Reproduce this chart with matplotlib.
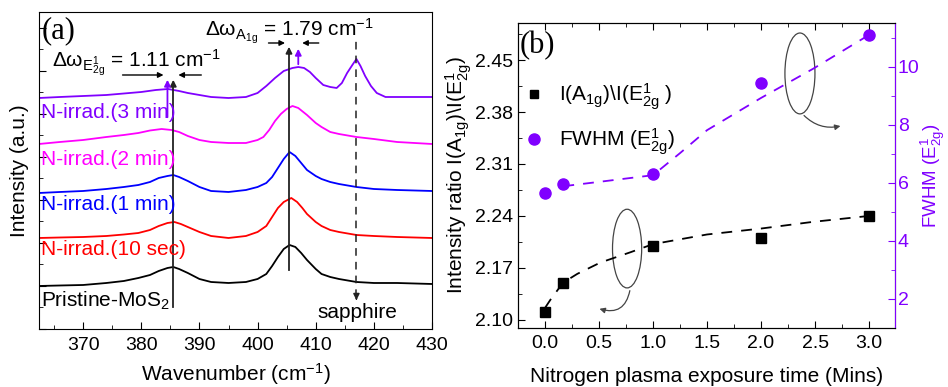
import matplotlib
matplotlib.use('Agg')
import matplotlib.pyplot as plt
from matplotlib.patches import Ellipse, FancyArrowPatch
from matplotlib.ticker import MultipleLocator
from matplotlib.lines import Line2D

plt.rcParams['font.family'] = ['Liberation Sans', 'DejaVu Sans']
plt.rcParams['mathtext.fontset'] = 'custom'
plt.rcParams['mathtext.rm'] = 'Liberation Sans'
plt.rcParams['mathtext.it'] = 'Liberation Sans:italic'
plt.rcParams['mathtext.bf'] = 'Liberation Sans:bold'

# ---- panel (a): Raman spectra (stacked, a.u.) ----
w_pristine = [362.4, 366, 370, 374, 377, 379.5, 381.5, 383, 384.5, 385.5, 386.5, 388, 390, 392, 395, 398, 400,
              401.5, 402.5, 403.5, 404.5, 405.5, 406.5, 407.5, 408.5, 410, 411, 412.5, 414, 417, 420, 424, 430]
i_pristine = [43, 43.5, 44, 46, 48, 51, 54, 58, 61, 62, 60, 56, 50, 47, 46, 47, 50,
              55, 63, 72, 80, 84, 82, 76, 69, 60, 55, 52, 50, 47, 46, 46, 45]

w_10sec = [362.4, 366, 370, 374, 377, 379.5, 381.5, 383, 384.5, 385.7, 386.8, 388, 390, 392, 395, 398, 400,
           401.5, 402.5, 403.5, 404.5, 405.8, 406.8, 407.7, 408.5, 410, 411, 412.5, 414, 417, 420, 424, 430]
i_10sec = [91, 91.5, 92, 93, 94.5, 96, 99, 103, 106, 107, 105, 102, 97, 93, 91, 93, 97,
           103, 112, 121, 127, 131, 127, 121, 115, 107, 103, 99, 97, 94, 93, 92, 91]

w_1min = [362.4, 366, 370, 374, 377, 379.5, 381.5, 383, 384.5, 385.5, 386.5, 388, 390, 392, 395, 398, 400,
          401.5, 402.5, 403.5, 404.5, 405.5, 406.5, 407.5, 408.5, 410, 411, 412.5, 414, 417, 420, 424, 430]
i_1min = [136, 137, 138, 140, 142, 144, 147, 151, 153, 154, 152, 148, 142, 138, 137, 139, 142,
          146, 152, 161, 170, 177, 173, 166, 159, 153, 150, 147, 145, 142, 140, 139, 138]

w_2min = [362.4, 366, 370, 374, 377, 379.5, 381.5, 383.5, 385.2, 386.5, 388, 390, 392, 395, 398, 400,
          401, 402, 403, 404, 405, 406, 407, 408.5, 410, 411, 412.5, 414, 417, 420, 424, 430]
i_2min = [185, 187, 189, 192, 194, 196, 198.5, 200, 199, 197, 193, 189, 187, 186, 186, 189,
          192, 199, 208, 215, 220, 223, 221, 214, 206, 202, 197, 195, 192, 190, 187, 185]

w_3min = [362.4, 366, 370, 374, 377, 380, 382.5, 384.6, 386.5, 388, 390, 392, 395, 398, 400, 401.5, 403,
          404.5, 406, 407, 408, 409, 410, 411.3, 412.5, 413.6, 414.5, 415.4, 416.3, 417, 417.7, 418.5,
          419.5, 420.5, 422, 426, 430.3]
i_3min = [231, 232, 233, 234, 235.5, 237, 239, 240, 238, 236, 234, 232, 231, 232, 236, 243, 251,
          258, 261, 262, 261, 257, 251, 244, 242, 241, 246, 256, 264, 270, 263, 253,
          243, 236, 232, 232, 232]

spec_labels = ['Pristine-MoS$_2$', 'N-irrad.(10 sec)', 'N-irrad.(1 min)', 'N-irrad.(2 min)', 'N-irrad.(3 min)']
spec_colors = ['black', '#FF0000', '#0000FF', '#FF00FF', '#8000FF']

# ---- panel (b): ratio and FWHM vs exposure time ----
time_min = [0.0, 0.167, 1.0, 2.0, 3.0]
ratio = [2.110, 2.150, 2.199, 2.210, 2.240]
fwhm = [5.64, 5.95, 6.29, 9.43, 11.07]

ratio_fit_t = [0.0, 0.05, 0.167, 0.3, 0.51, 0.79, 1.0, 1.5, 2.0, 2.48, 3.0]
ratio_fit = [2.116, 2.127, 2.150, 2.162, 2.177, 2.191, 2.202, 2.215, 2.223, 2.232, 2.240]
fwhm_fit_t = [0.17, 0.5, 1.0, 1.25, 1.5, 2.0, 2.48, 3.0]
fwhm_fit = [5.88, 6.03, 6.26, 7.02, 7.81, 8.92, 9.92, 11.09]

purple = '#8000FF'
FS = 15
TS = 14
E2G = r'\mathrm{E}^{\mathrm{1}}_{\mathrm{2g}}'
A1G = r'\mathrm{A}_{\mathrm{1g}}'

fig = plt.figure(figsize=(9.48, 3.87), dpi=100)

# ================= (a) =================
ax1 = fig.add_axes([0.0411, 0.1499, 0.4146, 0.8191])
series = [(w_pristine, i_pristine), (w_10sec, i_10sec), (w_1min, i_1min), (w_2min, i_2min), (w_3min, i_3min)]
for (w, i), c in zip(series, spec_colors):
    ax1.plot(w, i, color=c, lw=1.3)

ax1.set_xlim(362.4, 430)
ax1.set_ylim(0, 317)
ax1.xaxis.set_major_locator(MultipleLocator(10))
ax1.xaxis.set_minor_locator(MultipleLocator(5))
ax1.yaxis.set_major_locator(MultipleLocator(43))
ax1.yaxis.set_minor_locator(MultipleLocator(21.5))
ax1.set_yticklabels([])
ax1.tick_params(axis='both', which='both', direction='in', top=False, right=False, labelsize=TS)
ax1.tick_params(which='major', length=5)
ax1.tick_params(which='minor', length=3)
ax1.tick_params(axis='x', pad=6)
ax1.set_xlabel('Wavenumber (cm$^{-1}$)', fontsize=FS, labelpad=5)
ax1.set_ylabel('Intensity (a.u.)', fontsize=FS, labelpad=4)

label_y = [28, 79, 124, 169, 216]
for lab, c, yy in zip(spec_labels, spec_colors, label_y):
    ax1.text(362.8, yy, lab, color=c, fontsize=FS, va='center', ha='left')

ax1.text(417.2, 16, 'sapphire', fontsize=FS, ha='center', va='center')

# peak guide lines
ax1.plot([385.5, 385.5], [22, 246], color='#222222', lw=1.3)
ax1.annotate('', xy=(385.5, 252), xytext=(385.5, 240),
             arrowprops=dict(arrowstyle='-|>', color='#222222', lw=1.3, mutation_scale=9))
ax1.plot([405.4, 405.4], [59, 278], color='#222222', lw=1.3)
ax1.annotate('', xy=(405.4, 285), xytext=(405.4, 272),
             arrowprops=dict(arrowstyle='-|>', color='#222222', lw=1.3, mutation_scale=9))
ax1.plot([417.0, 417.0], [32, 288], color='#222222', lw=1.1, ls=(0, (5, 4)))
ax1.annotate('', xy=(417.0, 26), xytext=(417.0, 34),
             arrowprops=dict(arrowstyle='-|>', color='#222222', lw=1.1, mutation_scale=9))

# purple shifted-peak arrows
ax1.annotate('', xy=(384.5, 252), xytext=(384.5, 209),
             arrowprops=dict(arrowstyle='-|>', color=purple, lw=1.3, mutation_scale=9))
ax1.annotate('', xy=(407.0, 283), xytext=(407.0, 262),
             arrowprops=dict(arrowstyle='-|>', color=purple, lw=1.3, mutation_scale=9))

# horizontal delta arrows
ax1.annotate('', xy=(384.3, 254), xytext=(376.3, 254),
             arrowprops=dict(arrowstyle='-|>', color='black', lw=1.0, mutation_scale=8))
ax1.annotate('', xy=(385.9, 254), xytext=(390.8, 254),
             arrowprops=dict(arrowstyle='-|>', color='black', lw=1.0, mutation_scale=8))
ax1.annotate('', xy=(405.2, 286), xytext=(401.4, 286),
             arrowprops=dict(arrowstyle='-|>', color='black', lw=1.0, mutation_scale=8))
ax1.annotate('', xy=(407.2, 286), xytext=(411.0, 286),
             arrowprops=dict(arrowstyle='-|>', color='black', lw=1.0, mutation_scale=8))

ax1.text(364.6, 261, r'$\Delta\mathrm{\omega}_{' + E2G + r'}$ = 1.11 cm$^{-1}$', fontsize=FS,
         ha='left', va='baseline')
ax1.text(391.0, 293, r'$\Delta\mathrm{\omega}_{' + A1G + r'}$ = 1.79 cm$^{-1}$', fontsize=FS,
         ha='left', va='baseline')
ax1.text(362.9, 298, '(a)', fontsize=22, family='Liberation Serif', ha='left', va='center')

# ================= (b) =================
ax2 = fig.add_axes([0.5464, 0.1525, 0.3977, 0.7881])
ax3 = ax2.twinx()

ax2.plot(ratio_fit_t, ratio_fit, color='black', lw=1.3, ls=(0, (6, 5)))
ax2.plot(time_min, ratio, 's', color='black', ms=7, zorder=5)
ax3.plot(fwhm_fit_t, fwhm_fit, color=purple, lw=1.3, ls=(0, (6, 5)))
ax3.plot(time_min, fwhm, 'o', color=purple, ms=8, zorder=5)

ax2.set_xlim(-0.25, 3.24)
ax2.set_ylim(2.089, 2.50)
ax3.set_ylim(1.0, 11.5)
ax2.xaxis.set_major_locator(MultipleLocator(0.5))
ax2.xaxis.set_minor_locator(MultipleLocator(0.25))
ax2.yaxis.set_minor_locator(MultipleLocator(0.035))
ax2.set_yticks([2.10, 2.17, 2.24, 2.31, 2.38, 2.45])
ax2.set_yticklabels(['2.10', '2.17', '2.24', '2.31', '2.38', '2.45'])
ax3.yaxis.set_major_locator(MultipleLocator(2))
ax3.yaxis.set_minor_locator(MultipleLocator(1))

ax2.tick_params(axis='both', which='both', direction='in', top=True, right=False, labelsize=TS)
ax2.tick_params(which='major', length=5)
ax2.tick_params(which='minor', length=3)
ax2.tick_params(axis='x', pad=5)
ax3.tick_params(axis='y', which='both', direction='in', colors=purple, labelsize=TS, pad=2)
ax3.tick_params(which='major', length=5)
ax3.tick_params(which='minor', length=3)
ax3.spines['right'].set_color(purple)

ax2.set_xlabel('Nitrogen plasma exposure time (Mins)', fontsize=FS, labelpad=11)
ax2.set_ylabel(r'Intensity ratio I($' + A1G + r'$)\I($' + E2G + r'$)', fontsize=FS, labelpad=1)
ax3.set_ylabel(r'FWHM ($' + E2G + r'$)', fontsize=13.5, color=purple)
ax3.yaxis.set_label_coords(1.062, 0.5)

ax2.text(0.005, 0.925, '(b)', fontsize=22, family='Liberation Serif', transform=ax2.transAxes,
         ha='left', va='center')

handles = [Line2D([], [], ls='none', marker='s', color='black', ms=6),
           Line2D([], [], ls='none', marker='o', color=purple, ms=8)]
ax2.legend(handles, [r'I($' + A1G + r'$)\I($' + E2G + r'$ )', r'FWHM ($' + E2G + r'$)'], loc='upper left',
           bbox_to_anchor=(-0.035, 0.87), frameon=False, fontsize=FS, labelspacing=0.7,
           handlelength=1.0, handletextpad=0.7)

# loop-and-arrow markers pointing to the relevant axis
ax2.add_patch(Ellipse((2.36, 2.432), 0.278, 0.109, fill=False, ec='#444444', lw=0.9))
ax2.add_patch(FancyArrowPatch((2.38, 2.378), (2.76, 2.362), connectionstyle='arc3,rad=0.3',
                              arrowstyle='-|>', mutation_scale=8, color='#444444', lw=0.9))
ax2.add_patch(Ellipse((0.76, 2.196), 0.27, 0.106, fill=False, ec='#444444', lw=0.9))
ax2.add_patch(FancyArrowPatch((0.79, 2.143), (0.48, 2.116), connectionstyle='arc3,rad=-0.6',
                              arrowstyle='-|>', mutation_scale=8, color='#444444', lw=0.9))

fig.savefig('out.png', dpi=100)
